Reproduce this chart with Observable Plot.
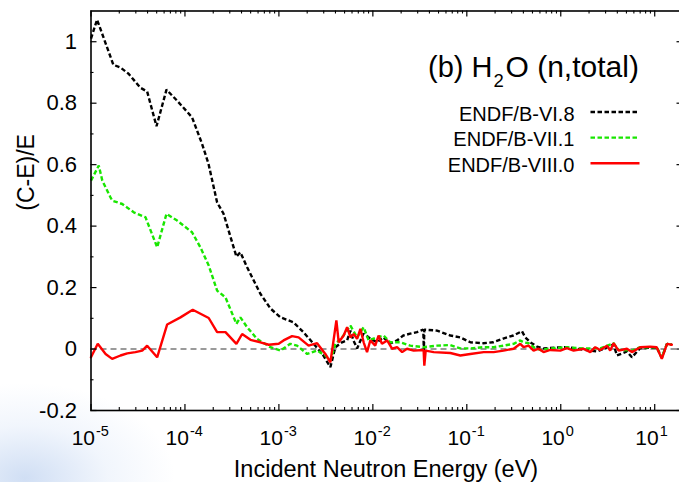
<!DOCTYPE html>
<html>
<head>
<meta charset="utf-8">
<script src="https://cdn.jsdelivr.net/npm/d3@7"></script>
<script src="https://cdn.jsdelivr.net/npm/@observablehq/plot@0.6"></script>
<style>
  html, body { margin: 0; padding: 0; width: 679px; height: 482px; overflow: hidden; }
  body {
    background:
      radial-gradient(ellipse 150px 95px at 25px 478px, rgba(170,196,235,0.55), rgba(200,218,245,0.25) 55%, rgba(255,255,255,0) 100%),
      #ffffff;
  }
  #chart svg { display: block; }
</style>
</head>
<body>
<div id="chart"></div>
<script>
// ---- Data ----
const seriesNames = ["ENDF/B-VI.8", "ENDF/B-VII.1", "ENDF/B-VIII.0"];

// Incident neutron energy (eV) and (C-E)/E for ENDF/B-VI.8
const energyVI8 = [1.00e-5, 1.16e-5, 1.73e-5, 2.06e-5, 2.51e-5, 3.36e-5, 3.96e-5, 4.98e-5, 6.36e-5, 8.26e-5,
  1.19e-4, 1.52e-4, 1.78e-4, 2.20e-4, 2.57e-4, 3.53e-4, 3.89e-4, 4.59e-4, 6.35e-4, 8.12e-4,
  1.04e-3, 1.43e-3, 1.82e-3, 2.33e-3, 2.97e-3, 3.53e-3, 3.99e-3, 4.70e-3, 5.32e-3, 5.77e-3,
  6.21e-3, 6.80e-3, 7.93e-3, 9.40e-3, 1.11e-2, 1.29e-2, 1.53e-2, 1.81e-2, 2.11e-2, 2.50e-2,
  2.95e-2, 3.44e-2, 3.49e-2, 3.53e-2, 4.82e-2, 6.67e-2, 8.53e-2, 0.109, 0.150, 0.191,
  0.244, 0.313, 0.386, 0.419, 0.474, 0.558, 0.652, 0.895, 1.16, 1.73,
  2.43, 3.10, 3.65, 3.96, 5.06, 5.72, 7.01, 10.5, 11.9, 13.5, 15.2];
const valueVI8 = [1.010, 1.072, 0.925, 0.916, 0.896, 0.850, 0.838, 0.725, 0.844, 0.808,
  0.754, 0.668, 0.603, 0.477, 0.441, 0.301, 0.315, 0.266, 0.180, 0.132,
  0.103, 0.087, 0.055, 0.018, -0.021, -0.059, 0.006, 0.022, 0.028, 0.060,
  0.028, 0.002, 0.050, 0.034, 0.022, 0.038, 0.018, 0.028, 0.044, 0.050,
  0.055, 0.063, -0.005, 0.063, 0.060, 0.044, 0.038, 0.022, 0.019, 0.022,
  0.034, 0.044, 0.058, 0.038, 0.022, 0.008, 0.002, 0.005, 0.006, -0.002,
  -0.008, 0.005, 0.015, -0.021, -0.008, -0.027, 0.003, 0.005, -0.028, 0.017, 0.014];

// ENDF/B-VII.1
const energyVII1 = [1.00e-5, 1.21e-5, 1.32e-5, 1.61e-5, 1.68e-5, 2.15e-5, 2.85e-5, 3.80e-5, 5.06e-5, 6.36e-5,
  8.26e-5, 1.19e-4, 1.46e-4, 1.79e-4, 2.20e-4, 2.70e-4, 3.53e-4, 3.89e-4, 4.59e-4, 5.86e-4,
  8.12e-4, 1.04e-3, 1.32e-3, 1.56e-3, 2.00e-3, 2.55e-3, 3.12e-3, 3.53e-3, 3.99e-3, 4.70e-3,
  5.77e-3, 6.80e-3, 7.98e-3, 9.02e-3, 1.11e-2, 1.30e-2, 1.53e-2, 1.96e-2, 2.50e-2, 3.47e-2,
  4.82e-2, 6.67e-2, 8.53e-2, 0.109, 0.151, 0.193, 0.246, 0.315, 0.371, 0.402,
  0.454, 0.514, 0.605, 0.773, 1.16, 1.75, 2.63, 3.65, 4.09, 5.72,
  7.01, 10.5, 11.9, 13.5, 15.2];
const valueVII1 = [0.548, 0.597, 0.548, 0.494, 0.483, 0.472, 0.445, 0.429, 0.331, 0.440,
  0.418, 0.380, 0.331, 0.272, 0.190, 0.168, 0.082, 0.103, 0.071, 0.033,
  0.006, -0.005, 0.017, 0.011, -0.016, -0.005, -0.021, -0.037, 0.017, 0.038,
  0.076, 0.038, 0.071, 0.028, 0.038, 0.044, 0.022, 0.022, 0.011, 0.006,
  0.011, 0.013, 0.002, 0.002, 0.006, 0.006, 0.011, 0.017, 0.028, 0.022,
  0.019, 0.006, -0.003, 0.002, 0.006, 0.002, 0.002, 0.019, -0.002, -0.005,
  0.006, 0.006, -0.028, 0.017, 0.014];

// ENDF/B-VIII.0
const energyVIII0 = [1.00e-5, 1.18e-5, 1.43e-5, 1.68e-5, 2.06e-5, 2.43e-5, 2.97e-5, 3.51e-5, 3.96e-5, 5.06e-5,
  6.47e-5, 8.96e-5, 1.21e-4, 1.79e-4, 2.20e-4, 2.70e-4, 3.53e-4, 4.06e-4, 4.98e-4, 6.35e-4,
  7.79e-4, 9.95e-4, 1.12e-3, 1.38e-3, 1.62e-3, 2.07e-3, 2.55e-3, 3.12e-3, 3.53e-3, 3.77e-3,
  4.09e-3, 4.33e-3, 4.89e-3, 5.32e-3, 5.77e-3, 6.25e-3, 6.80e-3, 7.37e-3, 7.98e-3, 8.67e-3,
  9.40e-3, 1.06e-2, 1.15e-2, 1.25e-2, 1.42e-2, 1.60e-2, 1.81e-2, 2.05e-2, 2.31e-2, 2.72e-2,
  3.47e-2, 3.53e-2, 3.65e-2, 4.44e-2, 6.67e-2, 8.53e-2, 0.109, 0.151, 0.193, 0.246,
  0.315, 0.371, 0.402, 0.454, 0.514, 0.581, 0.656, 0.773, 0.989, 1.16,
  1.37, 1.75, 2.06, 2.33, 2.63, 3.10, 3.36, 3.65, 4.13, 5.06,
  5.72, 7.01, 8.95, 10.5, 11.9, 13.5, 15.2];
const valueVIII0 = [-0.027, 0.017, -0.016, -0.032, -0.021, -0.014, -0.010, -0.005, 0.011, -0.027,
  0.080, 0.103, 0.128, 0.101, 0.055, 0.055, 0.017, 0.049, 0.030, 0.022,
  0.014, 0.017, 0.028, 0.042, 0.038, 0.011, 0.019, -0.016, -0.043, 0.017,
  0.093, 0.022, 0.044, 0.071, 0.038, 0.049, 0.033, 0.066, 0.022, -0.010,
  0.028, 0.011, 0.044, 0.017, 0.028, 0.001, 0.006, -0.010, 0.001, -0.005,
  -0.003, -0.054, -0.005, -0.010, -0.013, -0.021, -0.016, -0.010, -0.010, -0.005,
  0.001, 0.017, 0.006, 0.011, -0.005, 0.001, -0.010, -0.003, -0.005, 0.003,
  -0.005, 0.001, -0.010, 0.006, -0.003, 0.011, -0.005, 0.019, -0.005, 0.001,
  -0.010, 0.006, 0.008, 0.006, -0.032, 0.017, 0.014];

// Axis ticks and labels
const xMajorTicks = [1e-5, 1e-4, 1e-3, 1e-2, 1e-1, 1, 10];
const xExponents = ["-5", "-4", "-3", "-2", "-1", "0", "1"];
const yMajorTicks = [-0.2, 0, 0.2, 0.4, 0.6, 0.8, 1.0];
const yTickLabels = ["-0.2", "0", "0.2", "0.4", "0.6", "0.8", "1"];
const yMinorTicks = [-0.1, 0.1, 0.3, 0.5, 0.7, 0.9];
const xLabel = "Incident Neutron Energy (eV)";
const yLabel = "(C-E)/E";
const titleParts = ["(b) H", "2", "O (n,total)"];

// ---- Build ----
const xMinorTicks = [];
for (const d of xMajorTicks) for (let k = 2; k <= 9; k++) if (d * k < 20) xMinorTicks.push(d * k);

const toRows = (E, V) => E.map((e, i) => ({e, v: V[i]}));
const rowsVI8 = toRows(energyVI8, valueVI8);
const rowsVII1 = toRows(energyVII1, valueVII1);
const rowsVIII0 = toRows(energyVIII0, valueVIII0);
const xTickRows = xMajorTicks.map((t, i) => ({t, exp: xExponents[i]}));
const yTickRows = yMajorTicks.map((t, i) => ({t, label: yTickLabels[i]}));

const W = 679, H = 482;
const mL = 90.5, mR = -3.5, mT = 10.5, mB = 72;
const frameW = W - mR - mL, frameH = H - mB - mT;
const majorLen = 6, minorLen = 3;
const fontFamily = '"Liberation Sans", Arial, Helvetica, sans-serif';
const lineShape = {draw(ctx, l) { ctx.moveTo(0, 0); ctx.lineTo(0, -l); }};

const colors = ["#000000", "#19e600", "#ff0000"];
const dashes = ["4.5,2.5", "4.5,2.5", null];

const legendMarks = seriesNames.flatMap((name, i) => [
  Plot.text([name], {text: d => d, frameAnchor: "top-right", dx: -108.5, dy: 110.2 + i * 25.2,
    textAnchor: "end", lineAnchor: "bottom", fontSize: 20, fill: "black"}),
  Plot.vector([name], {frameAnchor: "top-right", dx: -92.5, dy: 101 + i * 25.6, rotate: 90,
    anchor: "start", length: 49, shape: lineShape, stroke: colors[i], strokeWidth: 2.4,
    strokeDasharray: dashes[i], strokeLinecap: "butt"})
]);

const chart = Plot.plot({
  width: W, height: H,
  marginLeft: mL, marginRight: mR, marginTop: mT, marginBottom: mB,
  style: {fontFamily, background: "transparent", color: "black", overflow: "visible"},
  x: {type: "log", domain: [1e-5, 20], axis: null},
  y: {domain: [-0.2, 1.1], axis: null},
  marks: [
    Plot.ruleY([0], {stroke: "#7a7a7a", strokeWidth: 1.4, strokeDasharray: "6,4"}),
    Plot.line(rowsVI8, {x: "e", y: "v", stroke: colors[0], strokeWidth: 2.4, strokeDasharray: dashes[0], strokeLinecap: "butt", strokeLinejoin: "miter"}),
    Plot.line(rowsVII1, {x: "e", y: "v", stroke: colors[1], strokeWidth: 2.4, strokeDasharray: dashes[1], strokeLinecap: "butt", strokeLinejoin: "miter"}),
    Plot.line(rowsVIII0, {x: "e", y: "v", stroke: colors[2], strokeWidth: 2.4, strokeLinejoin: "miter"}),
    // inward ticks (all four sides)
    Plot.tickX(xMajorTicks, {x: d => d, insetTop: frameH - majorLen, stroke: "black", strokeWidth: 1.2}),
    Plot.tickX(xMajorTicks, {x: d => d, insetBottom: frameH - majorLen, stroke: "black", strokeWidth: 1.2}),
    Plot.tickX(xMinorTicks, {x: d => d, insetTop: frameH - minorLen, stroke: "black", strokeWidth: 1.1}),
    Plot.tickX(xMinorTicks, {x: d => d, insetBottom: frameH - minorLen, stroke: "black", strokeWidth: 1.1}),
    Plot.tickY(yMajorTicks, {y: d => d, insetRight: frameW - majorLen, stroke: "black", strokeWidth: 1.2}),
    Plot.tickY(yMajorTicks, {y: d => d, insetLeft: frameW - majorLen, stroke: "black", strokeWidth: 1.2}),
    Plot.tickY(yMinorTicks, {y: d => d, insetRight: frameW - minorLen, stroke: "black", strokeWidth: 1.1}),
    Plot.tickY(yMinorTicks, {y: d => d, insetLeft: frameW - minorLen, stroke: "black", strokeWidth: 1.1}),
    Plot.frame({stroke: "black", strokeWidth: 1.6}),
    // y tick labels
    Plot.text(yTickRows, {y: "t", text: "label", frameAnchor: "left", dx: -14, textAnchor: "end",
      lineAnchor: "middle", fontSize: 22, fill: "black"}),
    // x tick labels: 10 with superscript exponent
    Plot.text(xTickRows, {x: "t", text: () => "10", frameAnchor: "bottom", dx: 4, dy: 34.5,
      textAnchor: "end", lineAnchor: "bottom", fontSize: 21, fill: "black"}),
    Plot.text(xTickRows, {x: "t", text: "exp", frameAnchor: "bottom", dx: 5, dy: 25,
      textAnchor: "start", lineAnchor: "bottom", fontSize: 14.5, fill: "black"}),
    // axis titles
    Plot.text([xLabel], {text: d => d, frameAnchor: "bottom", dx: -1, dy: 66.7,
      lineAnchor: "bottom", fontSize: 23.5, fill: "black"}),
    Plot.text([yLabel], {text: d => d, frameAnchor: "left", dx: -57.5, rotate: -90,
      lineAnchor: "bottom", fontSize: 23, fill: "black"}),
    // panel title with subscript
    Plot.text([titleParts[0]], {text: d => d, frameAnchor: "top-right", dx: -190.5, dy: 66.2,
      textAnchor: "end", lineAnchor: "bottom", fontSize: 29, fill: "black"}),
    Plot.text([titleParts[1]], {text: d => d, frameAnchor: "top-right", dx: -189.5, dy: 76,
      textAnchor: "start", lineAnchor: "bottom", fontSize: 18.5, fill: "black"}),
    Plot.text([titleParts[2]], {text: d => d, frameAnchor: "top-right", dx: -177.5, dy: 66.2,
      textAnchor: "start", lineAnchor: "bottom", fontSize: 30, fill: "black"}),
    ...legendMarks
  ]
});
document.getElementById("chart").appendChild(chart);
</script>
</body>
</html>
